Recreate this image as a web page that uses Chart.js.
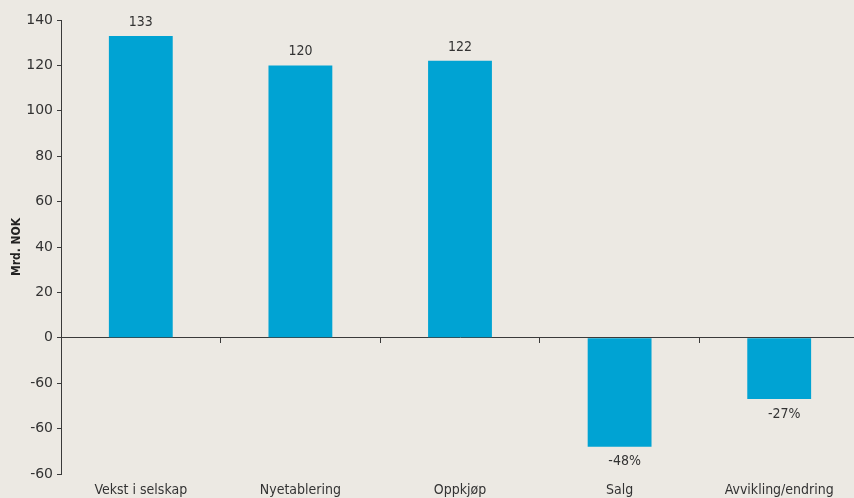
<!DOCTYPE html>
<html>
<head>
<meta charset="utf-8">
<script src="https://cdn.jsdelivr.net/npm/chart.js@4.4.0/dist/chart.umd.min.js"></script>
<style>
  html, body { margin: 0; padding: 0; background: #ece9e3; overflow: hidden; }
  #wrap { width: 862px; height: 498px; }
</style>
</head>
<body>
<div id="wrap"><canvas id="bidrag"></canvas></div>
<script>
// kategorier og verdier (mrd. NOK)
const categories = ['Vekst i selskap', 'Nyetablering', 'Oppkjøp', 'Salg', 'Avvikling/endring'];
const values = [133, 120, 122, -48, -27];
const tickValues = [140, 120, 100, 80, 60, 40, 20, 0, -20, -40, -60];
const tickLabels = ['140', '120', '100', '80', '60', '40', '20', '0', '-60', '-60', '-60'];

const barColor = '#00a3d3';
const axisColor = '#3a3a3a';
const textColor = '#333333';

// etiketter over/under søylene
const valueLabels = {
    id: 'valueLabels',
    afterDatasetsDraw(chart) {
        const ctx = chart.ctx;
        const meta = chart.getDatasetMeta(0);
        ctx.save();
        ctx.font = '14px "DejaVu Sans Condensed", "DejaVu Sans"';
        ctx.fillStyle = textColor;
        ctx.textAlign = 'center';
        ctx.textBaseline = 'middle';
        meta.data.forEach(function (bar, i) {
            let v = values[i];
            let txt = v < 0 ? v + '%' : String(v);
            let y = v < 0 ? bar.y + 15 : bar.y - 14;
            ctx.fillText(txt, bar.x + (v < 0 ? 5 : 0), y);
        });
        ctx.restore();
    }
};

var ctx = document.getElementById('bidrag');

var chart = new Chart(ctx, {
    type: 'bar',
    data: {
        labels: categories,
        datasets: [{
            label: 'Mrd. NOK',
            data: values,
            backgroundColor: barColor,
            borderWidth: 0,
            barPercentage: 0.4,
            categoryPercentage: 1.0,
            xAxisID: 'x',
            yAxisID: 'y'
        }]
    },
    options: {
        responsive: true,
        maintainAspectRatio: false,
        animation: false,
        layout: { padding: { top: 20, right: 3, left: 0, bottom: 0 } },
        plugins: {
            legend: { display: false },
            tooltip: { enabled: false }
        },
        scales: {
            x: {
                position: { y: 0 },
                grid: {
                    display: true,
                    offset: true,
                    drawOnChartArea: false,
                    drawTicks: true,
                    tickLength: 5,
                    color: axisColor
                },
                border: { display: true, color: axisColor, width: 1 },
                ticks: { display: false }
            },
            x2: {
                type: 'category',
                labels: categories,
                position: 'bottom',
                grid: { display: false, drawTicks: false },
                border: { display: false },
                ticks: {
                    color: textColor,
                    font: { family: '"DejaVu Sans Condensed", "DejaVu Sans"', size: 14 },
                    padding: 8,
                    maxRotation: 0,
                    autoSkip: false
                },
                afterFit: function (scale) { scale.height = 24; }
            },
            y: {
                min: -60,
                max: 140,
                afterBuildTicks: function (scale) {
                    scale.ticks = tickValues.map(function (v) { return { value: v }; });
                },
                grid: {
                    drawOnChartArea: false,
                    drawTicks: true,
                    tickLength: 4,
                    color: axisColor
                },
                border: { display: true, color: axisColor, width: 1 },
                ticks: {
                    color: textColor,
                    font: { family: '"DejaVu Sans"', size: 14 },
                    padding: 4,
                    callback: function (value) {
                        let i = tickValues.indexOf(value);
                        return i >= 0 ? tickLabels[i] : '';
                    }
                },
                title: {
                    display: true,
                    text: 'Mrd. NOK',
                    color: '#222222',
                    font: { family: '"DejaVu Sans Condensed", "DejaVu Sans"', size: 12, weight: 'bold' },
                    padding: { top: 10, bottom: 4 }
                },
                afterFit: function (scale) { scale.width = 61; }
            }
        }
    },
    plugins: [valueLabels]
});
</script>
</body>
</html>
